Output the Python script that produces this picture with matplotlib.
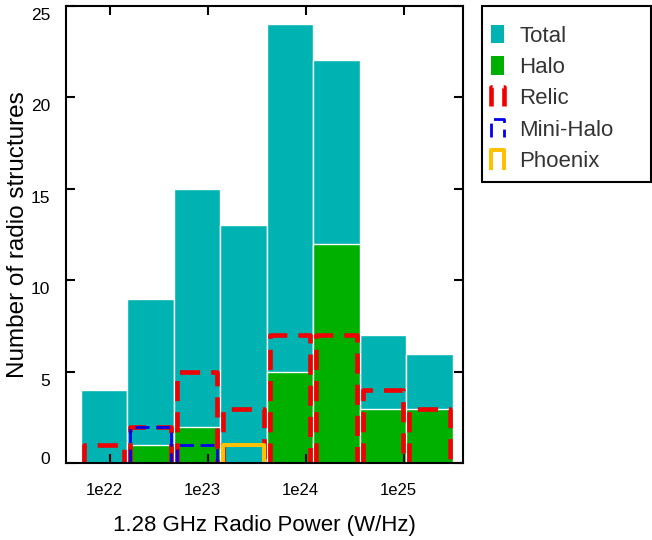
import numpy as np
import matplotlib
matplotlib.use("Agg")
import matplotlib.pyplot as plt
from matplotlib.patches import Patch, Rectangle
from matplotlib.lines import Line2D
from matplotlib.legend_handler import HandlerBase
from matplotlib.transforms import ScaledTranslation

plt.rcParams['font.family'] = ['Liberation Sans', 'DejaVu Sans']

# bin edges in log10(P / W Hz^-1)
edges_log = [21.7, 22.175, 22.65, 23.125, 23.6, 24.075, 24.55, 25.025, 25.5]
total = [4, 9, 15, 13, 24, 22, 7, 6]
halo = [0, 1, 2, 0, 5, 12, 3, 3]
relic = [1, 2, 5, 3, 7, 7, 4, 3]
minihalo = [0, 2, 1, 0, 0, 0, 0, 0]
phoenix = [0, 0, 0, 1, 0, 0, 0, 0]
xtick_vals = [1e22, 1e23, 1e24, 1e25]
xtick_labels = ['1e22', '1e23', '1e24', '1e25']
ytick_vals = [0, 5, 10, 15, 20, 25]

c_total = '#00b3b3'
c_halo = '#00b000'
c_relic = '#f00000'
c_mini = '#0000f0'
c_phx = '#ffc000'

edges = 10 ** np.array(edges_log)
lefts = edges[:-1]
widths = edges[1:] - edges[:-1]

fig = plt.figure(figsize=(6.52, 5.4), dpi=100)
ax = fig.add_axes([0.1012, 0.1417, 0.6089, 0.8481])
ax.set_xscale('log')

ax.bar(lefts, total, width=widths, align='edge', color=c_total,
       edgecolor='white', linewidth=1, zorder=1)
ax.bar(lefts, halo, width=widths, align='edge', color=c_halo,
       edgecolor='white', linewidth=1, zorder=1.1)

inset = 0.03  # boxes sit a little inside the bin, in dex


def open_boxes(values, **kw):
    for e0, e1, v in zip(edges_log[:-1], edges_log[1:], values):
        if v <= 0:
            continue
        x0, x1 = 10 ** (e0 + inset), 10 ** (e1 - inset)
        ax.plot([x0, x0, x1, x1], [0, v, v, 0], zorder=2, **kw)


relic_kw = dict(color=c_relic, lw=3.3, linestyle=(0, (4.4, 2.4)))
mini_kw = dict(color=c_mini, lw=2.0, linestyle=(0, (5, 2.4)))
phx_kw = dict(color=c_phx, lw=2.9, linestyle='-')
open_boxes(relic, **relic_kw)
open_boxes(minihalo, **mini_kw)
open_boxes(phoenix, **phx_kw)

ax.set_xlim(10 ** 21.551, 10 ** 25.602)
ax.set_ylim(0, 25)
ax.set_xticks(xtick_vals)
ax.set_xticklabels(xtick_labels)
ax.xaxis.set_minor_locator(matplotlib.ticker.NullLocator())
ax.set_yticks(ytick_vals)

ax.tick_params(axis='both', which='major', direction='in', length=6.5, width=1.5,
               top=True, right=True)
ax.tick_params(axis='x', pad=14, labelsize=12)
ax.tick_params(axis='y', pad=11.5, labelsize=12.5)
for s in ax.spines.values():
    s.set_linewidth(1.5)
    s.set_zorder(3)

xshift = ScaledTranslation(-6 / 100, 0, fig.dpi_scale_trans)
for lab in ax.get_xticklabels():
    lab.set_transform(lab.get_transform() + xshift)
for v, lab in zip(ytick_vals, ax.get_yticklabels()):
    dy = 5 if v == 0 else -8   # gnuplot-like label placement
    lab.set_transform(lab.get_transform() +
                      ScaledTranslation(0, dy / 100, fig.dpi_scale_trans))

ax.set_xlabel('1.28 GHz Radio Power (W/Hz)', fontsize=16, labelpad=12)
ax.set_ylabel('Number of radio structures', fontsize=17.5)
ax.yaxis.set_label_coords(-0.094, 0.5)


class OpenBoxHandler(HandlerBase):
    def create_artists(self, legend, orig_handle, xdescent, ydescent,
                       width, height, fontsize, trans):
        x0, x1 = -xdescent, -xdescent + width
        y0, y1 = -ydescent, -ydescent + height
        ln = Line2D([x0, x0, x1, x1], [y0, y1, y1, y0])
        ln.update_from(orig_handle)
        ln.set_transform(trans)
        return [ln]


handles = [Patch(facecolor=c_total, label='Total'),
           Patch(facecolor=c_halo, label='Halo'),
           Line2D([], [], label='Relic', **relic_kw),
           Line2D([], [], label='Mini-Halo', **mini_kw),
           Line2D([], [], label='Phoenix', **phx_kw)]
hmap = {h: OpenBoxHandler() for h in handles[2:]}

W, H = 652, 540
leg = fig.legend(handles=handles, handler_map=hmap, loc='upper left',
                 bbox_to_anchor=(491 / W, 1 - 25 / H), fontsize=16,
                 frameon=False, handlelength=0.6, handleheight=0.9,
                 handletextpad=0.68, labelspacing=0.42, borderpad=0,
                 borderaxespad=0)
for t in leg.get_texts():
    t.set_color('#333333')

# legend box
fig.patches.append(Rectangle((481.5 / W, 1 - 181.5 / H), 169 / W, 175.5 / H,
                             transform=fig.transFigure, fill=False,
                             edgecolor='black', linewidth=1.5))

fig.savefig('out.png', dpi=100)
